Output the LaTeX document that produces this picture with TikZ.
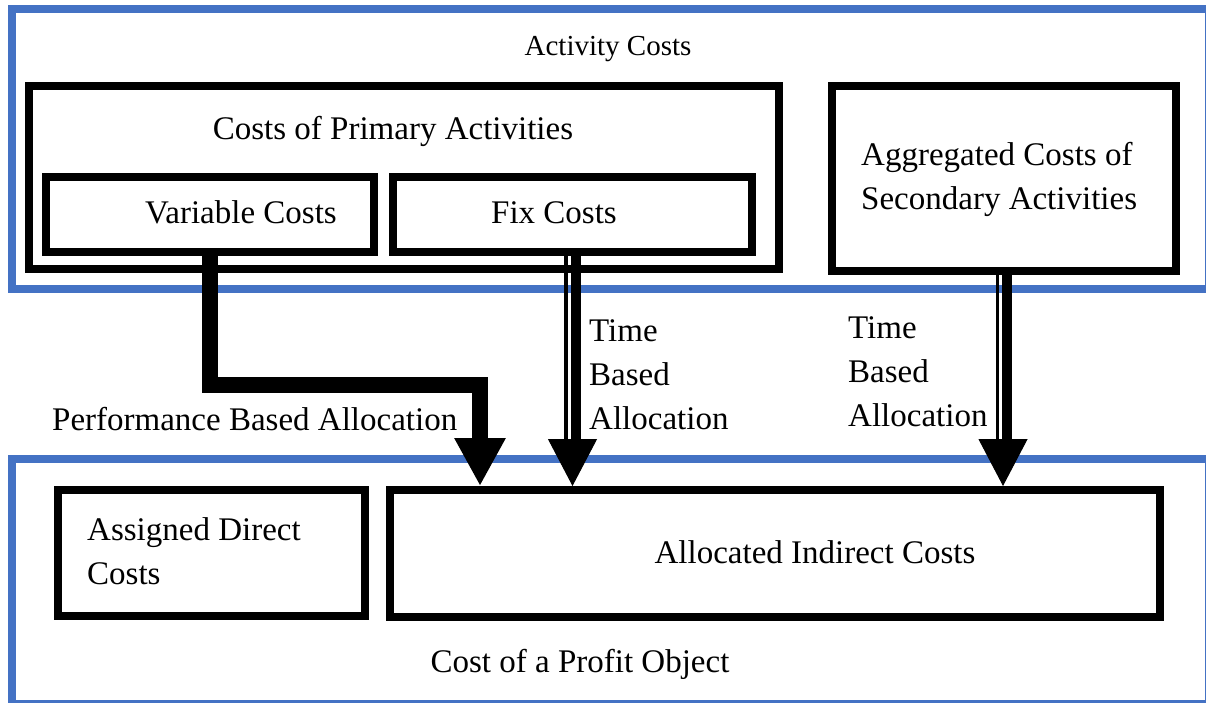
\documentclass[tikz,border=0pt]{standalone}
\usepackage{fontspec}
\setmainfont{Liberation Serif}
\usetikzlibrary{arrows.meta}
\definecolor{frameblue}{RGB}{68,114,196}
\begin{document}
\begin{tikzpicture}[x=1pt,y=-1pt,
    font=\fontsize{33}{44}\selectfont,
    box/.style={draw=black,line width=8pt,inner sep=0pt},
    frame/.style={draw=frameblue,line width=8pt,inner sep=0pt},
    txt/.style={inner sep=0pt,anchor=base},
    txtl/.style={inner sep=0pt,anchor=base west,align=left},
    head/.style={line width=1pt,-{Triangle[width=49pt,length=47pt]}}]
\clip (0,0) rectangle (1206,702);

%Les cadres
\node[frame,minimum width=1197pt,minimum height=280pt] (act) at (610.5,149) {};
\node[frame,minimum width=1197pt,minimum height=244.5pt] (obj) at (610.5,581.25) {};

%Les boites
\node[box,minimum width=750pt,minimum height=183pt] (prim) at (404,177.5) {};
\node[box,minimum width=328pt,minimum height=75pt] (var) at (210,214.5) {};
\node[box,minimum width=359pt,minimum height=75pt] (fix) at (572.5,214.5) {};
\node[box,minimum width=344pt,minimum height=185pt] (sec) at (1004,178.5) {};
\node[box,minimum width=307pt,minimum height=126pt] (dir) at (211.5,553) {};
\node[box,minimum width=770pt,minimum height=127pt] (alloc) at (775,553.5) {};

%Les textes (base = derniere ligne)
\node[txt,font=\fontsize{29}{36}\selectfont] (actlbl) at (608,55) {Activity Costs};
\node[txt] (primlbl) at (393,139) {Costs of Primary Activities};
\node[txt] (varlbl) at (241,223) {Variable Costs};
\node[txt] (fixlbl) at (554,223) {Fix Costs};
\node[txtl] (seclbl) at (861,209) {Aggregated Costs of\\Secondary Activities};
\node[txtl] (dirlbl) at (87,584) {Assigned Direct\\Costs};
\node[txt] (alloclbl) at (815,563) {Allocated Indirect Costs};
\node[txt] (objlbl) at (580,672) {Cost of a Profit Object};
\node[txtl] (perflbl) at (52,430) {Performance Based Allocation};
\node[txtl] (time1) at (589,429) {Time\\Based\\Allocation};
\node[txtl] (time2) at (848,426) {Time\\Based\\Allocation};

%Les fleches
\coordinate (bend) at (480,385);
\draw[line width=16pt,-{Triangle[width=48pt,length=48pt]}] (var.south)
    -- (var.south |- bend) -- (bend) -- (bend |- alloc.north);
\draw[line width=4pt] ([xshift=-7pt]fix.south) -- ++(0,190);
\draw[line width=10pt] ([xshift=3pt]fix.south) -- ++(0,190);
\draw[head] (fix.south) -- (fix.south |- alloc.north);
\draw[line width=3.5pt] ([xshift=-6.5pt]sec.south) -- ++(0,170);
\draw[line width=10pt] ([xshift=3pt]sec.south) -- ++(0,170);
\draw[head] ([xshift=-1pt]sec.south) -- ([xshift=-1pt]sec.south |- alloc.north);

\end{tikzpicture}
\end{document}
